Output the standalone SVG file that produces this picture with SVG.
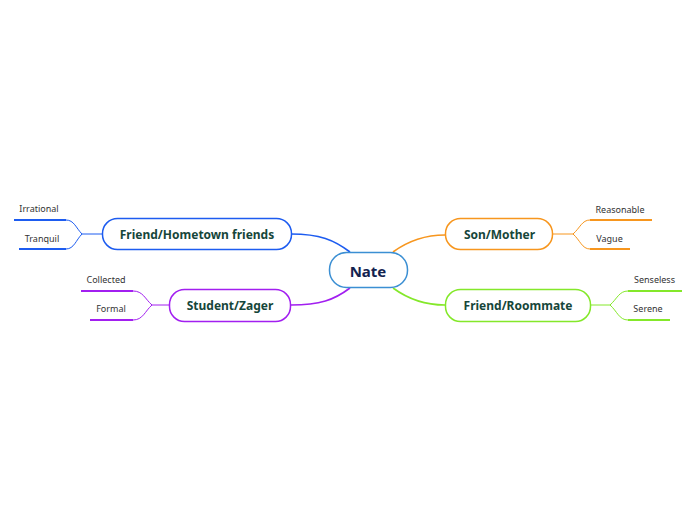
<svg xmlns="http://www.w3.org/2000/svg" width="696" height="520" viewBox="0 0 696 520">
<style>
.box{fill:#fff;stroke-width:1.5}
.t{font-family:"Noto Sans","Open Sans",sans-serif;font-weight:bold;font-size:12px;fill:#16463a;text-anchor:middle}
.s{font-family:"Noto Sans","Open Sans",sans-serif;font-size:9px;fill:#333;text-anchor:middle}
.c{fill:none;stroke-width:1.6}
.f{fill:none;stroke-width:1}
.u{fill:none;stroke-width:2.2}
.blue{stroke:#1d5cf0}.purple{stroke:#a21ff0}.orange{stroke:#f7961e}.green{stroke:#84e82a}
</style>
<rect width="696" height="520" fill="#fff"/>
<g id="connectors">
<path class="c blue" d="M291,234 C320,234 334,240 350,252"/>
<path class="c purple" d="M291,305 C320,305 334,300 350,288"/>
<path class="c orange" d="M393,252 C408,241 425,235 445,235"/>
<path class="c green" d="M393,288 C408,299 425,305 445,305"/>
<path class="f blue" d="M102,234 L82,234 C76,228 74,220 66,220"/>
<path class="f blue" d="M82,234 C76,240 74,249 66,249"/>
<path class="f purple" d="M169,305 L152,305 C145,299 143,291 133,291"/>
<path class="f purple" d="M152,305 C145,311 143,320 133,320"/>
<path class="f orange" d="M553,234 L573,234 C580,228 582,220 590,220"/>
<path class="f orange" d="M573,234 C580,240 582,249 590,249"/>
<path class="f green" d="M591,305 L610,305 C617,299 619,291 628,291"/>
<path class="f green" d="M610,305 C617,311 619,320 628,320"/>
<path class="u blue" d="M14,220 H66 M19,249 H66"/>
<path class="u purple" d="M81,291 H133 M90,320 H133"/>
<path class="u orange" d="M590,220 H652 M590,249 H630"/>
<path class="u green" d="M628,291 H682 M628,320 H670"/>
</g>
<g id="nate">
<rect class="box" x="329.5" y="252.5" width="78" height="35" rx="17" stroke="#3b8fd3"/>
<text x="368" y="276.5" style="font-family:'Noto Sans','Open Sans',sans-serif;font-weight:bold;font-size:15px;fill:#13234f;text-anchor:middle">Nate</text>
</g>
<g id="friend-hometown">
<rect class="box blue" x="102.5" y="218.5" width="189" height="31" rx="15"/>
<text class="t" x="197" y="238.5">Friend/Hometown friends</text>
</g>
<g id="student-zager">
<rect class="box purple" x="169.5" y="289.5" width="121" height="32" rx="15"/>
<text class="t" x="230" y="309.5">Student/Zager</text>
</g>
<g id="son-mother">
<rect class="box orange" x="445.5" y="218.5" width="107" height="31" rx="15"/>
<text class="t" x="499.5" y="238.5">Son/Mother</text>
</g>
<g id="friend-roommate">
<rect class="box green" x="445.5" y="289.5" width="145" height="32" rx="15"/>
<text class="t" x="518" y="309.5">Friend/Roommate</text>
</g>
<g id="irrational"><text class="s" x="39" y="212">Irrational</text></g>
<g id="tranquil"><text class="s" x="42" y="242">Tranquil</text></g>
<g id="collected"><text class="s" x="106" y="283">Collected</text></g>
<g id="formal"><text class="s" x="111" y="312">Formal</text></g>
<g id="reasonable"><text class="s" x="620" y="213">Reasonable</text></g>
<g id="vague"><text class="s" x="609.5" y="242">Vague</text></g>
<g id="senseless"><text class="s" x="654.5" y="283">Senseless</text></g>
<g id="serene"><text class="s" x="648" y="312">Serene</text></g>
</svg>
